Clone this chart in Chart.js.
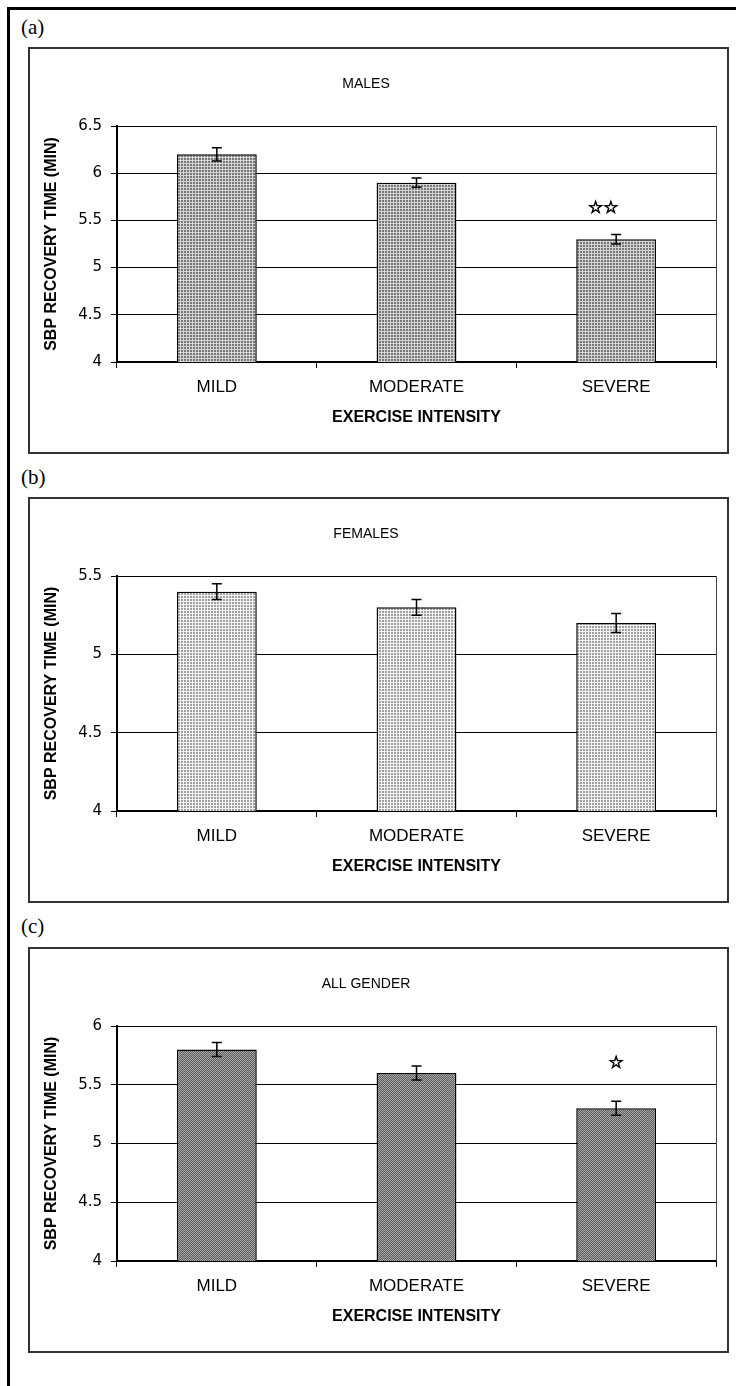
<!DOCTYPE html>
<html>
<head>
<meta charset="utf-8">
<script src="https://cdn.jsdelivr.net/npm/chart.js@4.4.0/dist/chart.umd.min.js"></script>
<style>
body{margin:0;background:#fff;width:736px;height:1386px;overflow:hidden;position:relative}
#frame{position:absolute;left:7px;top:7px;width:760px;height:1420px;border-top:3px solid #000;border-left:3px solid #000}
.box{position:absolute;left:28px;width:701px;border:2px solid #333;box-sizing:border-box}
canvas{position:absolute;left:28px}
.tag{position:absolute;left:21px;font-family:"Liberation Serif","Times New Roman",serif;font-size:21px;line-height:24px;color:#000}
</style>
</head>
<body>
<div id="frame"></div>

<div class="tag" style="top:15px">(a)</div>
<div class="box" style="top:47px;height:407px"></div>
<canvas id="males" width="701" height="407" style="top:47px"></canvas>

<div class="tag" style="top:465px">(b)</div>
<div class="box" style="top:497px;height:406px"></div>
<canvas id="females" width="701" height="406" style="top:497px"></canvas>

<div class="tag" style="top:914px">(c)</div>
<div class="box" style="top:947px;height:406px"></div>
<canvas id="all" width="701" height="406" style="top:947px"></canvas>

<script>
// exercise intensity groups
const categories = ['MILD', 'MODERATE', 'SEVERE'];

// SBP recovery time (min), mean and error bar half-length
const maleMeans = [6.2, 5.9, 5.3];
const maleErrors = [0.07, 0.05, 0.05];
const femaleMeans = [5.4, 5.3, 5.2];
const femaleErrors = [0.05, 0.05, 0.06];
const allMeans = [5.8, 5.6, 5.3];
const allErrors = [0.06, 0.06, 0.06];

// significance marks and the level they sit at
const maleStars = ['', '', '☆☆'];
const maleStarAt = [null, null, 5.63];
const femaleStars = ['', '', ''];
const femaleStarAt = [null, null, null];
const allStars = ['', '', '☆'];
const allStarAt = [null, null, 5.68];

// y axis ranges
const maleRange = [4, 6.5];
const femaleRange = [4, 5.5];
const allRange = [4, 6];
const tickStep = 0.5;

function dotFill(dark, light, size) {
    var c = document.createElement('canvas');
    c.width = size; c.height = size;
    var g = c.getContext('2d');
    if (size == 2) {
        g.fillStyle = light; g.fillRect(0, 0, 2, 2);
        g.fillStyle = dark; g.fillRect(0, 0, 1, 1); g.fillRect(1, 1, 1, 1);
    } else {
        g.fillStyle = dark; g.fillRect(0, 0, size, size);
        g.fillStyle = light; g.fillRect(size - 1, 0, 1, size); g.fillRect(0, size - 1, size, 1);
    }
    return g.createPattern(c, 'repeat');
}

var panelExtras = {
    id: 'panelExtras',
    beforeDatasetsDraw: function(chart) {
        var a = chart.chartArea, ctx = chart.ctx;
        ctx.save();
        ctx.strokeStyle = '#444';
        ctx.lineWidth = 1;
        ctx.beginPath();
        ctx.moveTo(a.right + 0.5, a.top);
        ctx.lineTo(a.right + 0.5, a.bottom);
        ctx.stroke();
        ctx.restore();
    },
    afterDatasetsDraw: function(chart, args, opts) {
        var ctx = chart.ctx, y = chart.scales.y;
        var bars = chart.getDatasetMeta(0).data;
        ctx.save();
        ctx.strokeStyle = '#000';
        ctx.lineWidth = 1.5;
        bars.forEach(function(bar, i) {
            var top = y.getPixelForValue(opts.means[i] + opts.errors[i]);
            var bot = y.getPixelForValue(opts.means[i] - opts.errors[i]);
            ctx.beginPath();
            ctx.moveTo(bar.x, top); ctx.lineTo(bar.x, bot);
            ctx.moveTo(bar.x - 5, top); ctx.lineTo(bar.x + 5, top);
            ctx.moveTo(bar.x - 5, bot); ctx.lineTo(bar.x + 5, bot);
            ctx.stroke();
            if (opts.stars[i]) {
                var sx = bar.x + opts.starShift, sy = y.getPixelForValue(opts.starAt[i]);
                ctx.font = '17px "DejaVu Sans"';
                ctx.textAlign = 'center';
                ctx.textBaseline = 'middle';
                ctx.fillStyle = '#000';
                ctx.lineWidth = 0.9;
                ctx.fillText(opts.stars[i], sx, sy);
                ctx.strokeText(opts.stars[i], sx, sy);
                ctx.lineWidth = 1.5;
            }
        });
        ctx.restore();
    },
    afterDraw: function(chart, args, opts) {
        var ctx = chart.ctx;
        ctx.save();
        ctx.font = '14px "Liberation Sans"';
        ctx.fillStyle = '#000';
        ctx.textAlign = 'center';
        ctx.textBaseline = 'middle';
        ctx.fillText(opts.title, 338, 37);
        ctx.restore();
    }
};

function recoveryChart(div, title, means, errors, range, fill, stars, starAt, starShift) {
    var ctx = document.getElementById(div).getContext('2d');
    return new Chart(ctx, {
        type: 'bar',
        data: {
            labels: categories,
            datasets: [{
                data: means,
                backgroundColor: fill,
                borderColor: '#000',
                borderWidth: 1.5,
                borderSkipped: false,
                barPercentage: 0.4,
                categoryPercentage: 1
            }]
        },
        options: {
            responsive: false,
            animation: false,
            layout: { padding: { left: 0, right: 13, top: 79, bottom: 0 } },
            plugins: {
                legend: { display: false },
                tooltip: { enabled: false },
                panelExtras: { title: title, means: means, errors: errors, stars: stars, starAt: starAt, starShift: starShift }
            },
            scales: {
                x: {
                    grid: { drawOnChartArea: false, drawTicks: true, tickLength: 6, offset: true, color: '#000' },
                    border: { display: true, color: '#000', width: 2 },
                    ticks: { color: '#000', padding: 9, font: { family: 'Liberation Sans', size: 17 } },
                    title: {
                        display: true, text: 'EXERCISE INTENSITY', color: '#000',
                        font: { family: 'Liberation Sans', size: 16, weight: 'bold' },
                        padding: { top: 0, bottom: 27 }
                    },
                    afterFit: function(s) { s.height = 92; }
                },
                y: {
                    min: range[0],
                    max: range[1],
                    ticks: {
                        stepSize: tickStep, color: '#000', padding: 9,
                        font: { family: 'DejaVu Sans', size: 15 },
                        callback: function(v) { return String(Math.round(v * 10) / 10); }
                    },
                    grid: { color: '#000', lineWidth: 1, tickLength: 6, drawTicks: true },
                    border: { display: true, color: '#000', width: 2 },
                    title: {
                        display: true, text: 'SBP RECOVERY TIME (MIN)', color: '#000',
                        font: { family: 'Liberation Sans', size: 16, weight: 'bold' },
                        padding: { top: 14, bottom: 0 }
                    },
                    afterFit: function(s) { s.width = 89; }
                }
            }
        },
        plugins: [panelExtras]
    });
}

recoveryChart('males', 'MALES', maleMeans, maleErrors, maleRange,
    dotFill('#777777', '#d4d4d4', 3), maleStars, maleStarAt, -13);
recoveryChart('females', 'FEMALES', femaleMeans, femaleErrors, femaleRange,
    dotFill('#a0a0a0', '#f4f4f4', 3), femaleStars, femaleStarAt, 0);
recoveryChart('all', 'ALL GENDER', allMeans, allErrors, allRange,
    dotFill('#5c5c5c', '#a8a8a8', 2), allStars, allStarAt, 0);
</script>
</body>
</html>
